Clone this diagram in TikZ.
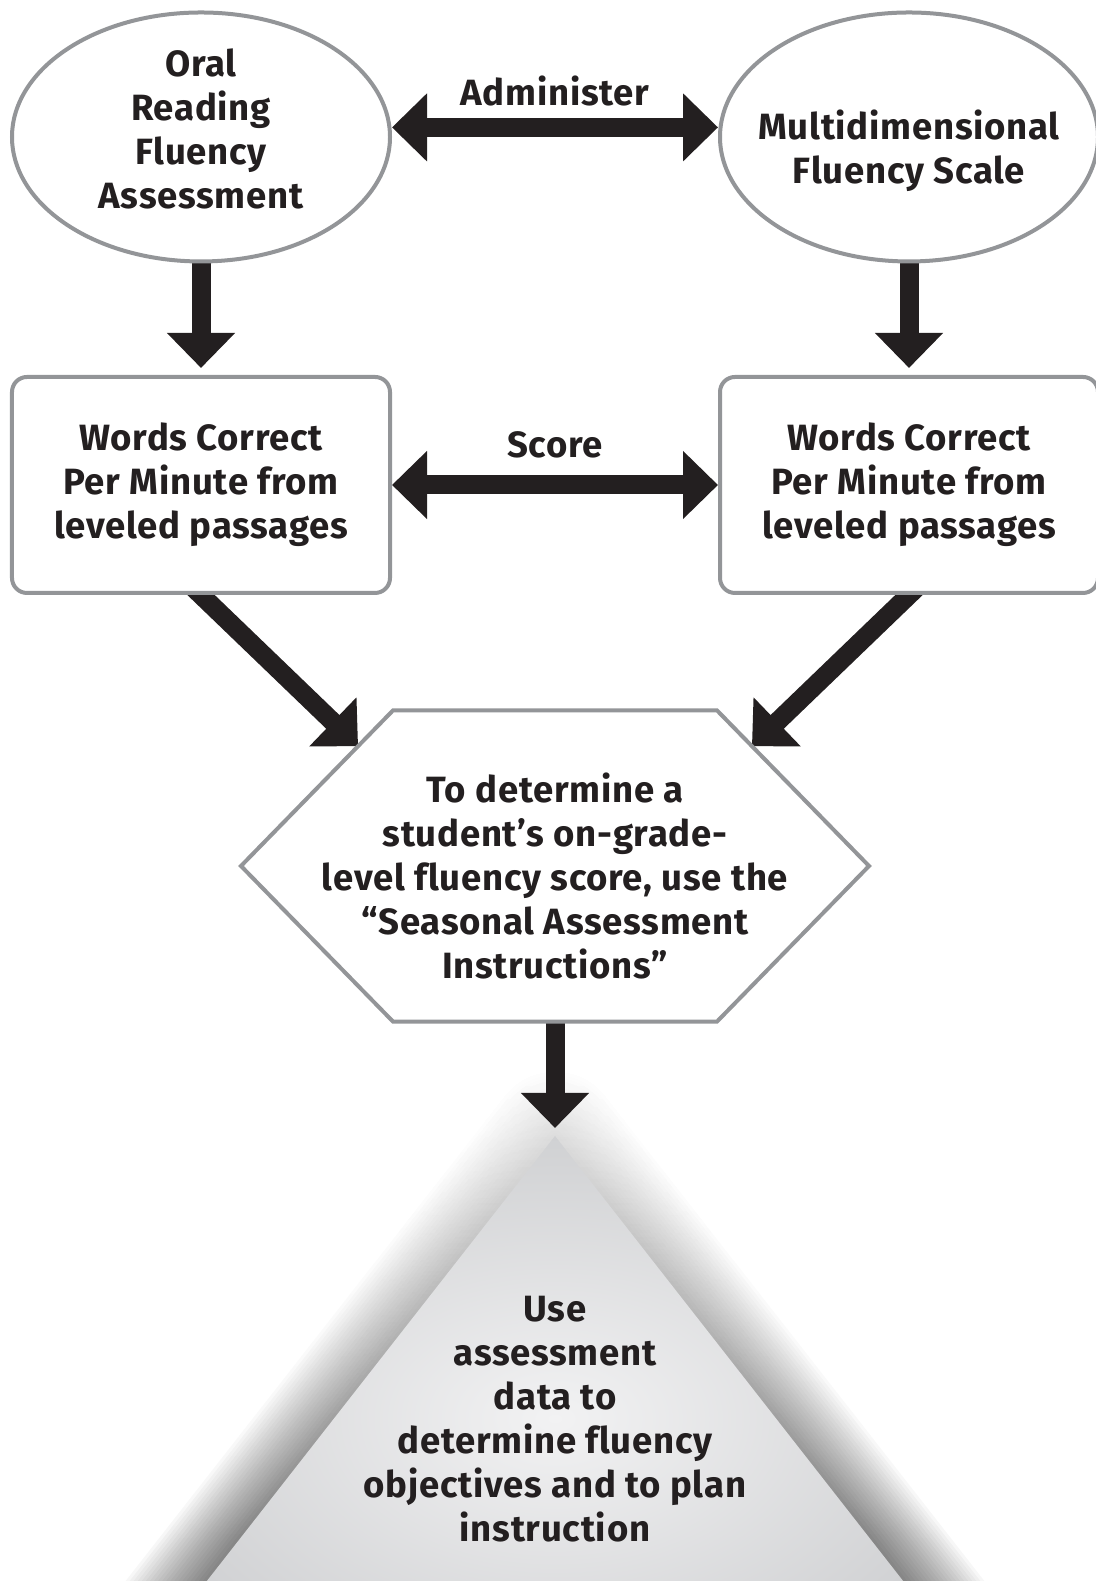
\documentclass[tikz,border=0pt]{standalone}
\usepackage{fontspec}
\setmainfont{Fira Sans}[LetterSpace=2, Ligatures=NoCommon]
\usetikzlibrary{arrows.meta,calc,shapes.geometric,positioning,backgrounds,fadings}
\definecolor{inkblack}{RGB}{35,31,32}
\definecolor{rimgray}{RGB}{147,149,152}
\definecolor{trilight}{RGB}{242,242,243}
\definecolor{tridark}{RGB}{208,209,211}

\tikzset{
  flowtext/.style={align=center, text=inkblack, font=\bfseries\fontsize{26}{31.3}\selectfont},
  ovalbox/.style={ellipse, draw=rimgray, line width=1mm, fill=white,
    minimum width=9.45cm, minimum height=6.225cm, inner sep=0pt},
  wordbox/.style={rectangle, rounded corners=3.75mm, draw=rimgray, line width=1mm, fill=white,
    minimum width=9.45cm, minimum height=5.4cm, inner sep=0pt, flowtext},
  fatarrow/.style={draw=inkblack, line width=4.75mm, -{Triangle[length=8.75mm,width=16.5mm]}},
  fatboth/.style={fatarrow, {Triangle[length=8.75mm,width=16.5mm]}-{Triangle[length=8.75mm,width=16.5mm]}},
}

\begin{document}
\begin{tikzpicture}
\useasboundingbox (0,0) rectangle (27.4,39.525);

%% ── TOP ROW: the two assessments ───────────────────────────────────────
\node[ovalbox, label={[flowtext, yshift=2mm]center:{Oral\\Reading\\Fluency\\Assessment}}]
  (orf) at (5.025,36.1) {};
\node[ovalbox, label={[flowtext, yshift=-3.5mm]center:{Multidimensional\\Fluency Scale}}]
  (mfs) at (22.725,36.1) {};

%% ── SECOND ROW: words correct per minute ───────────────────────────────
\node[wordbox] (wcpmL) at (5.025,27.4)  {Words Correct\\Per Minute from\\leveled passages};
\node[wordbox] (wcpmR) at (22.725,27.4) {Words Correct\\Per Minute from\\leveled passages};

%% ── HEXAGON: seasonal instructions ─────────────────────────────────────
\coordinate (hexc) at (13.875,17.875);
\coordinate (hxL)  at ($(hexc)+(-7.85,0)$);
\coordinate (hxTL) at ($(hexc)+(-4.05,3.89)$);
\coordinate (hxTR) at ($(hexc)+(4.05,3.89)$);
\coordinate (hxR)  at ($(hexc)+(7.85,0)$);
\coordinate (hxBR) at ($(hexc)+(4.05,-3.89)$);
\coordinate (hxBL) at ($(hexc)+(-4.05,-3.89)$);
\coordinate (hxB)  at ($(hexc)+(0,-3.89)$);
\draw[rimgray, line width=1mm, fill=white]
  (hxL) -- (hxTL) -- (hxTR) -- (hxR) -- (hxBR) -- (hxBL) -- cycle;
\node[flowtext] (hextext) at ($(hexc)+(0,-0.25)$)
  {To determine a\\student’s on-grade-\\level fluency score, use the\\“Seasonal Assessment\\Instructions”};

% arrow tips sit on the upper slanted edges
\coordinate (tipL) at ($(hxTL)!0.23!(hxL)$);
\coordinate (tipR) at ($(hxTR)!0.23!(hxR)$);

%% ── TRIANGLE + CONNECTORS (behind the shapes) ──────────────────────────
\coordinate (apex)  at (13.875,11.125);
\coordinate (baseL) at (2.825,-3);
\coordinate (baseR) at (24.925,-3);
\begin{scope}[on background layer]
  \begin{scope}
    \clip (0,0) rectangle (27.4,39.525);
    % soft shadow built from stacked strokes
    \foreach \k in {1,...,20}{
      \draw[black, opacity=0.03, line width=\k*1.6mm, line join=round]
        (apex) -- (baseR) -- (baseL) -- cycle;
    }
    % shadow thins out towards the apex
    \fill[white, opacity=0.85, path fading=south] (0,1) rectangle (27.4,13);
    \shade[inner color=trilight, outer color=tridark]
      (apex) -- (baseR) -- (baseL) -- cycle;
  \end{scope}

  \draw[fatboth] ([yshift=2.4mm]orf.east) -- ([yshift=2.4mm]mfs.west);
  \draw[fatboth] (wcpmL.east) -- (wcpmR.west);
  \draw[fatarrow, shorten >=1.75mm] (orf.south) -- (wcpmL.north);
  \draw[fatarrow, shorten >=1.75mm] (mfs.south) -- (wcpmR.north);
  \draw[fatarrow] ($(wcpmL.south)!-4mm!(tipL)$) -- (tipL);
  \draw[fatarrow] ($(wcpmR.south)!-4mm!(tipR)$) -- (tipR);
  \draw[fatarrow, shorten >=2mm] (hxB) -- (apex);
\end{scope}

\node[flowtext] (usetext) at (13.875,4.05)
  {Use\\assessment\\data to\\determine fluency\\objectives and to plan\\instruction};

% arrow labels
\node[flowtext] (admlabel)   at (13.875,37.25) {Administer};
\node[flowtext] (scorelabel) at (13.875,28.4)  {Score};

\end{tikzpicture}
\end{document}
